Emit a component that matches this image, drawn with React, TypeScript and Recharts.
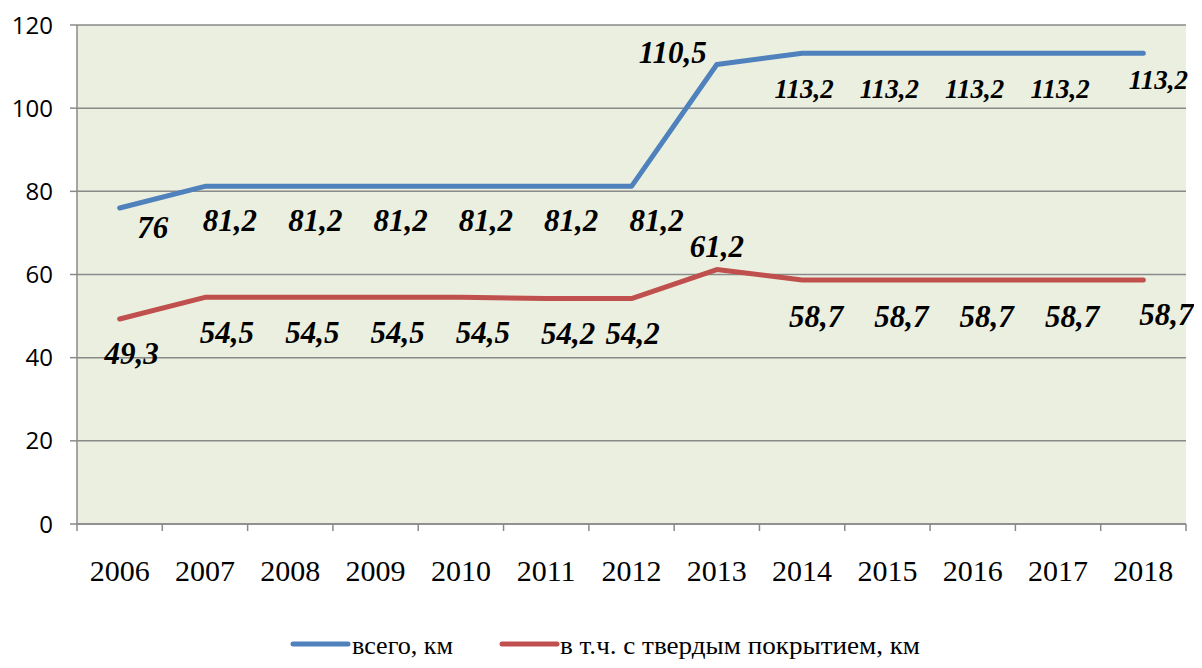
import React from 'react'
import {
  CartesianGrid,
  LabelList,
  Line,
  LineChart,
  XAxis,
  YAxis,
} from 'recharts'

const years = ['2006', '2007', '2008', '2009', '2010', '2011', '2012', '2013', '2014', '2015', '2016', '2017', '2018']
const totalKm = [76, 81.2, 81.2, 81.2, 81.2, 81.2, 81.2, 110.5, 113.2, 113.2, 113.2, 113.2, 113.2]
const pavedKm = [49.3, 54.5, 54.5, 54.5, 54.5, 54.2, 54.2, 61.2, 58.7, 58.7, 58.7, 58.7, 58.7]
const yTicks = [0, 20, 40, 60, 80, 100, 120]

const seriesNames = ['всего, км', 'в т.ч. с твердым покрытием, км']

const data = years.map((year, i) => ({
  year,
  total: totalKm[i],
  paved: pavedKm[i],
}))

const W = 1194
const H = 652
const LEFT = 69
const TOP = 17
const PLOT_W = 1109
const PLOT_H = 499
const BAND = PLOT_W / years.length
const AXIS = '#8a8a8a'
const BLUE = '#4f81bd'
const RED = '#c0504d'

const fmt = (v: number) => String(v).replace('.', ',')

function YearTick(props: any) {
  const { x, payload, index } = props
  const axisY = TOP + PLOT_H
  const last = index === years.length - 1
  return (
    <g>
      <line x1={x - BAND / 2} x2={x - BAND / 2} y1={axisY} y2={axisY + 7} stroke={AXIS} strokeWidth={1.5} />
      {last && (
        <line x1={x + BAND / 2} x2={x + BAND / 2} y1={axisY} y2={axisY + 7} stroke={AXIS} strokeWidth={1.5} />
      )}
      <text
        x={x}
        y={axisY + 46}
        textAnchor="middle"
        dominantBaseline="central"
        fontFamily="'Liberation Serif', serif"
        fontSize={30}
        fill="#000"
      >
        {payload.value}
      </text>
    </g>
  )
}

// Excel-like manual label placement: mostly below the line, 2013 above
function makeLabel(series: 'total' | 'paved') {
  return (props: any) => {
    const { x, y, value, index } = props
    let dx = 22
    let dy = 35
    let size = 31
    if (series === 'total') {
      if (index === 0) { dx = 33; dy = 20 }
      else if (index < 7) { dx = 25; dy = 34 }
      else if (index === 7) { dx = -44; dy = -12 }
      else if (index === years.length - 1) { dx = 15; dy = 27; size = 27 }
      else { dx = 2; dy = 36; size = 27 }
    } else {
      if (index === 0) { dx = 12 }
      else if (index === 6) { dx = 1 }
      else if (index === 7) { dx = 0; dy = -23 }
      else if (index === years.length - 1) { dx = 23 }
      else if (index > 7) { dx = 14; dy = 37 }
    }
    return (
      <text
        x={x + dx}
        y={y + dy}
        textAnchor="middle"
        dominantBaseline="central"
        fontFamily="'Liberation Serif', serif"
        fontWeight="bold"
        fontStyle="italic"
        fontSize={size}
        fill="#000"
      >
        {fmt(value)}
      </text>
    )
  }
}

function LegendBox() {
  const font = "'Liberation Serif', serif"
  return (
    <svg width={W} height={40} style={{ position: 'absolute', left: 0, top: 620 }}>
      <line x1={285} x2={340} y1={16} y2={16} stroke={BLUE} strokeWidth={5} strokeLinecap="round" />
      <text x={344} y={26} fontFamily={font} fontSize={26} textLength={101} lengthAdjust="spacingAndGlyphs" fill="#000">
        {seriesNames[0]}
      </text>
      <line x1={494} x2={549} y1={16} y2={16} stroke={RED} strokeWidth={5} strokeLinecap="round" />
      <text x={552} y={26} fontFamily={font} fontSize={26} textLength={360} lengthAdjust="spacingAndGlyphs" fill="#000">
        {seriesNames[1]}
      </text>
    </svg>
  )
}

export default function App() {
  return (
    <div style={{ position: 'relative', width: W, height: 660, marginBottom: -8, overflow: 'hidden' }}>
      <LineChart
        width={W}
        height={H}
        data={data}
        margin={{ top: TOP, right: W - LEFT - PLOT_W, bottom: H - TOP - PLOT_H - 80, left: 0 }}
      >
        <CartesianGrid vertical={false} stroke={AXIS} strokeWidth={1.5} fill="#ebefdf" fillOpacity={1} />
        <XAxis
          dataKey="year"
          height={80}
          padding={{ left: BAND / 2, right: BAND / 2 }}
          axisLine={{ stroke: AXIS, strokeWidth: 1.5 }}
          tickLine={false}
          tick={<YearTick />}
          interval={0}
        />
        <YAxis
          width={LEFT}
          domain={[0, 120]}
          ticks={yTicks}
          tickSize={7}
          tickMargin={17}
          axisLine={{ stroke: AXIS, strokeWidth: 1.5 }}
          tickLine={{ stroke: AXIS, strokeWidth: 1.5 }}
          tick={{ fill: '#000', fontSize: 24, fontFamily: "'Open Sans', sans-serif" }}
        />
        <Line
          type="linear"
          dataKey="total"
          name={seriesNames[0]}
          stroke={BLUE}
          strokeWidth={5}
          strokeLinecap="round"
          strokeLinejoin="round"
          dot={false}
          isAnimationActive={false}
        >
          <LabelList dataKey="total" content={makeLabel('total')} />
        </Line>
        <Line
          type="linear"
          dataKey="paved"
          name={seriesNames[1]}
          stroke={RED}
          strokeWidth={5}
          strokeLinecap="round"
          strokeLinejoin="round"
          dot={false}
          isAnimationActive={false}
        >
          <LabelList dataKey="paved" content={makeLabel('paved')} />
        </Line>
      </LineChart>
      <LegendBox />
    </div>
  )
}
